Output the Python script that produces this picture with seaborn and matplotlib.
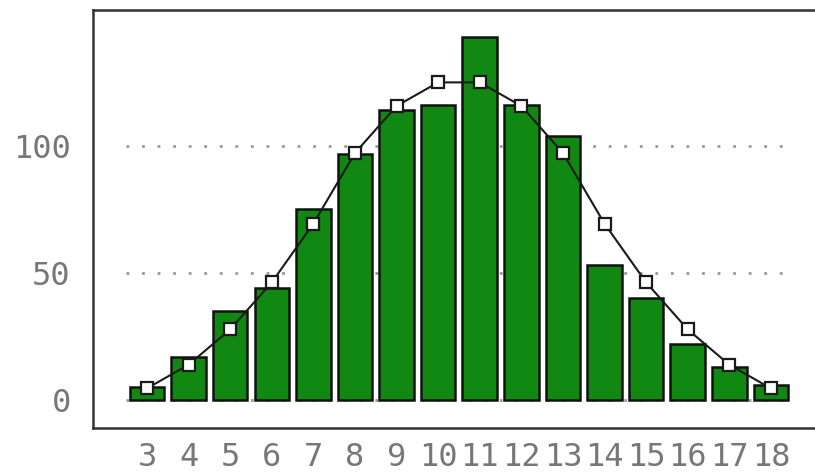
import numpy as np
import pandas as pd
import matplotlib
matplotlib.use("Agg")
import matplotlib.pyplot as plt
import seaborn as sns

# Sum of three dice: observed counts over 1000 rolls, and expected counts
sums = [3, 4, 5, 6, 7, 8, 9, 10, 11, 12, 13, 14, 15, 16, 17, 18]
observed = [5, 17, 35, 44, 75, 97, 114, 116, 143, 116, 104, 53, 40, 22, 13, 6]
expected = [4.6, 13.9, 27.8, 46.3, 69.4, 97.2, 115.7, 125.0,
            125.0, 115.7, 97.2, 69.4, 46.3, 27.8, 13.9, 4.6]
y_ticks = [0, 50, 100]

sns.set_theme(style="white")
plt.rcParams["font.family"] = ["DejaVu Sans Mono", "DejaVu Sans"]

df = pd.DataFrame({"sum": [str(s) for s in sums], "observed": observed,
                   "expected": expected})

fig = plt.figure(figsize=(8.15, 4.74), dpi=100)
ax = fig.add_axes([0.114, 0.097, 0.886, 0.882])

pos = np.arange(len(sums))

# dotted reference lines across the bar region
ax.hlines(y_ticks, pos[0] - 0.5, pos[-1] + 0.5, colors="#999999",
          linestyles=(0, (1, 4.6)), linewidth=2.0, zorder=0)

sns.barplot(data=df, x="sum", y="observed", color="#118811", saturation=1,
            width=0.83, edgecolor="#111111", linewidth=1.8, ax=ax, zorder=2)

sns.lineplot(x=pos, y=df["expected"], color="#1a1a1a", linewidth=1.5,
             marker="s", markersize=9, markerfacecolor="white",
             markeredgecolor="#1a1a1a", markeredgewidth=1.6, ax=ax, zorder=3)

ax.set_xlim(-1.30, 16.06)
ax.set_ylim(-11, 153.5)
ax.set_yticks(y_ticks)
ax.set_xlabel("")
ax.set_ylabel("")
ax.tick_params(axis="both", length=0, labelsize=23, labelcolor="#777777")
ax.tick_params(axis="y", pad=16)
ax.tick_params(axis="x", pad=10)

for side in ["left", "top", "bottom"]:
    ax.spines[side].set_color("#333333")
    ax.spines[side].set_linewidth(1.8)
ax.spines["right"].set_visible(False)

fig.savefig("out.png", dpi=100)
